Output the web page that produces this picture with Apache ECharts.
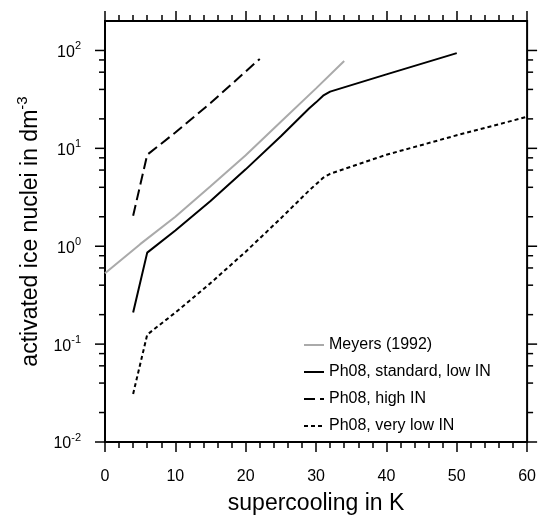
<!DOCTYPE html>
<html>
<head>
<meta charset="utf-8">
<script src="https://cdn.jsdelivr.net/npm/echarts@6/dist/echarts.min.js"></script>
<style>
  html, body { margin: 0; padding: 0; background: #fff; }
  #myChart { width: 539px; height: 520px; }
</style>
</head>
<body>
<div id="myChart"></div>
<script>
  // values (x = supercooling in K, y = IN per dm^3)
  var meyers = [[0, 0.53], [5, 1.05], [10, 2.0], [15, 4.1], [20, 8.5], [25, 18.7], [30, 41], [34, 78]];
  var ph08Standard = [[4, 0.21], [6, 0.86], [10, 1.45], [15, 2.9], [20, 6.1], [25, 13.3], [29, 25.5], [30, 29.5], [31, 34.5], [32, 38], [40, 57], [50, 94]];
  var ph08High = [[4, 2.05], [6, 8.6], [10, 14.5], [15, 29], [20, 61], [22, 82]];
  var ph08VeryLow = [[4, 0.031], [6, 0.125], [10, 0.21], [15, 0.42], [20, 0.88], [25, 1.93], [29, 3.7], [30, 4.3], [31, 5.0], [32, 5.5], [40, 8.6], [50, 13.6], [60, 21]];

  var seriesNames = ['Meyers (1992)', 'Ph08, standard, low IN', 'Ph08, high IN', 'Ph08, very low IN'];

  var xTickValues = [0, 10, 20, 30, 40, 50, 60];
  var yMajorTicks = [0.01, 0.1, 1, 10, 100];
  var yMinorTicks = [0.02, 0.04, 0.06, 0.08, 0.2, 0.4, 0.6, 0.8, 2, 4, 6, 8, 20, 40, 60, 80];

  var font = 'Liberation Sans';

  // tick marks for the log axes (left and right), placed through the axis scale
  var yTickData = [];
  yMajorTicks.forEach(function (v) { yTickData.push([0, v, 10]); });
  yMinorTicks.forEach(function (v) { yTickData.push([0, v, 6]); });

  function expLabel(v) {
    var e = Math.round(Math.log(v) / Math.LN10);
    if (Math.abs(v - Math.pow(10, e)) > 1e-6 * v) return '';
    return '{b|10}{s|' + e + '}';
  }

  var option = {
    animation: false,
    backgroundColor: '#fff',
    textStyle: { fontFamily: font, color: '#000' },
    grid: { left: 105, right: 10, top: 21, bottom: 76, show: true, borderColor: '#000', borderWidth: 2, backgroundColor: 'transparent' },
    legend: {
      data: seriesNames,
      orient: 'vertical',
      left: 298,
      top: 332,
      itemWidth: 20,
      itemHeight: 14,
      itemGap: 11,
      itemStyle: { opacity: 0 },
      textStyle: { fontFamily: font, fontSize: 16, color: '#000' }
    },
    xAxis: [
      {
        type: 'value',
        min: 0,
        max: 60,
        interval: 10,
        name: 'supercooling in K',
        nameLocation: 'middle',
        nameGap: 50,
        nameTextStyle: { fontFamily: font, fontSize: 23, color: '#000' },
        axisLine: { lineStyle: { color: '#000', width: 2 } },
        axisTick: { inside: false, length: 10, lineStyle: { color: '#000', width: 1.5 } },
        minorTick: { show: true, splitNumber: 5, length: 6, lineStyle: { color: '#000', width: 1.5 } },
        splitLine: { show: false },
        axisLabel: {
          margin: 27, fontFamily: font, fontSize: 16, color: '#000',
          showMinLabel: true, showMaxLabel: true,
          formatter: function (v) { return xTickValues.indexOf(v) >= 0 ? String(v) : ''; }
        }
      },
      {
        type: 'value',
        position: 'top',
        min: 0,
        max: 60,
        interval: 10,
        axisLine: { show: true, lineStyle: { color: '#000', width: 2 } },
        axisTick: { inside: false, length: 10, lineStyle: { color: '#000', width: 1.5 } },
        minorTick: { show: true, splitNumber: 5, length: 6, lineStyle: { color: '#000', width: 1.5 } },
        splitLine: { show: false },
        axisLabel: { show: false }
      }
    ],
    yAxis: [
      {
        type: 'log',
        logBase: 10,
        min: 0.01,
        max: 200,
        name: '{n|activated ice nuclei in dm}{s|-3}',
        nameLocation: 'middle',
        nameGap: 58,
        nameTextStyle: {
          rich: {
            n: { fontFamily: font, fontSize: 23, color: '#000', verticalAlign: 'bottom' },
            s: { fontFamily: font, fontSize: 15, color: '#000', verticalAlign: 'bottom', padding: [0, 0, 12, 0] }
          }
        },
        axisLine: { lineStyle: { color: '#000', width: 2 } },
        axisTick: { show: false },
        splitLine: { show: false },
        axisLabel: {
          margin: 24,
          formatter: expLabel,
          rich: {
            b: { fontFamily: font, fontSize: 16, color: '#000', verticalAlign: 'bottom' },
            s: { fontFamily: font, fontSize: 11, color: '#000', verticalAlign: 'bottom', padding: [0, 0, 9, 0] }
          }
        }
      }
    ],
    series: [
      {
        name: seriesNames[0], type: 'line', data: meyers, symbol: 'none',
        lineStyle: { color: '#aaaaaa', width: 2 }, itemStyle: { color: '#aaaaaa' }
      },
      {
        name: seriesNames[1], type: 'line', data: ph08Standard, symbol: 'none',
        lineStyle: { color: '#000', width: 2 }, itemStyle: { color: '#000' }
      },
      {
        name: seriesNames[2], type: 'line', data: ph08High, symbol: 'none',
        lineStyle: { color: '#000', width: 2, type: [11, 5] }, itemStyle: { color: '#000' }
      },
      {
        name: seriesNames[3], type: 'line', data: ph08VeryLow, symbol: 'none',
        lineStyle: { color: '#000', width: 2, type: [4, 3] }, itemStyle: { color: '#000' }
      },
      {
        name: 'yticks',
        type: 'custom',
        silent: true,
        clip: false,
        data: yTickData,
        encode: { x: 0, y: 1 },
        renderItem: function (params, api) {
          var v = api.value(1), len = api.value(2);
          var l = api.coord([0, v]);
          var r = api.coord([60, v]);
          var st = { stroke: '#000', lineWidth: 1.5 };
          return {
            type: 'group',
            children: [
              { type: 'line', shape: { x1: l[0] - len, y1: l[1], x2: l[0], y2: l[1] }, style: st },
              { type: 'line', shape: { x1: r[0], y1: r[1], x2: r[0] + len, y2: r[1] }, style: st }
            ]
          };
        }
      }
    ]
  };

  var myChart = echarts.init(document.getElementById('myChart'));
  myChart.setOption(option);
</script>
</body>
</html>
